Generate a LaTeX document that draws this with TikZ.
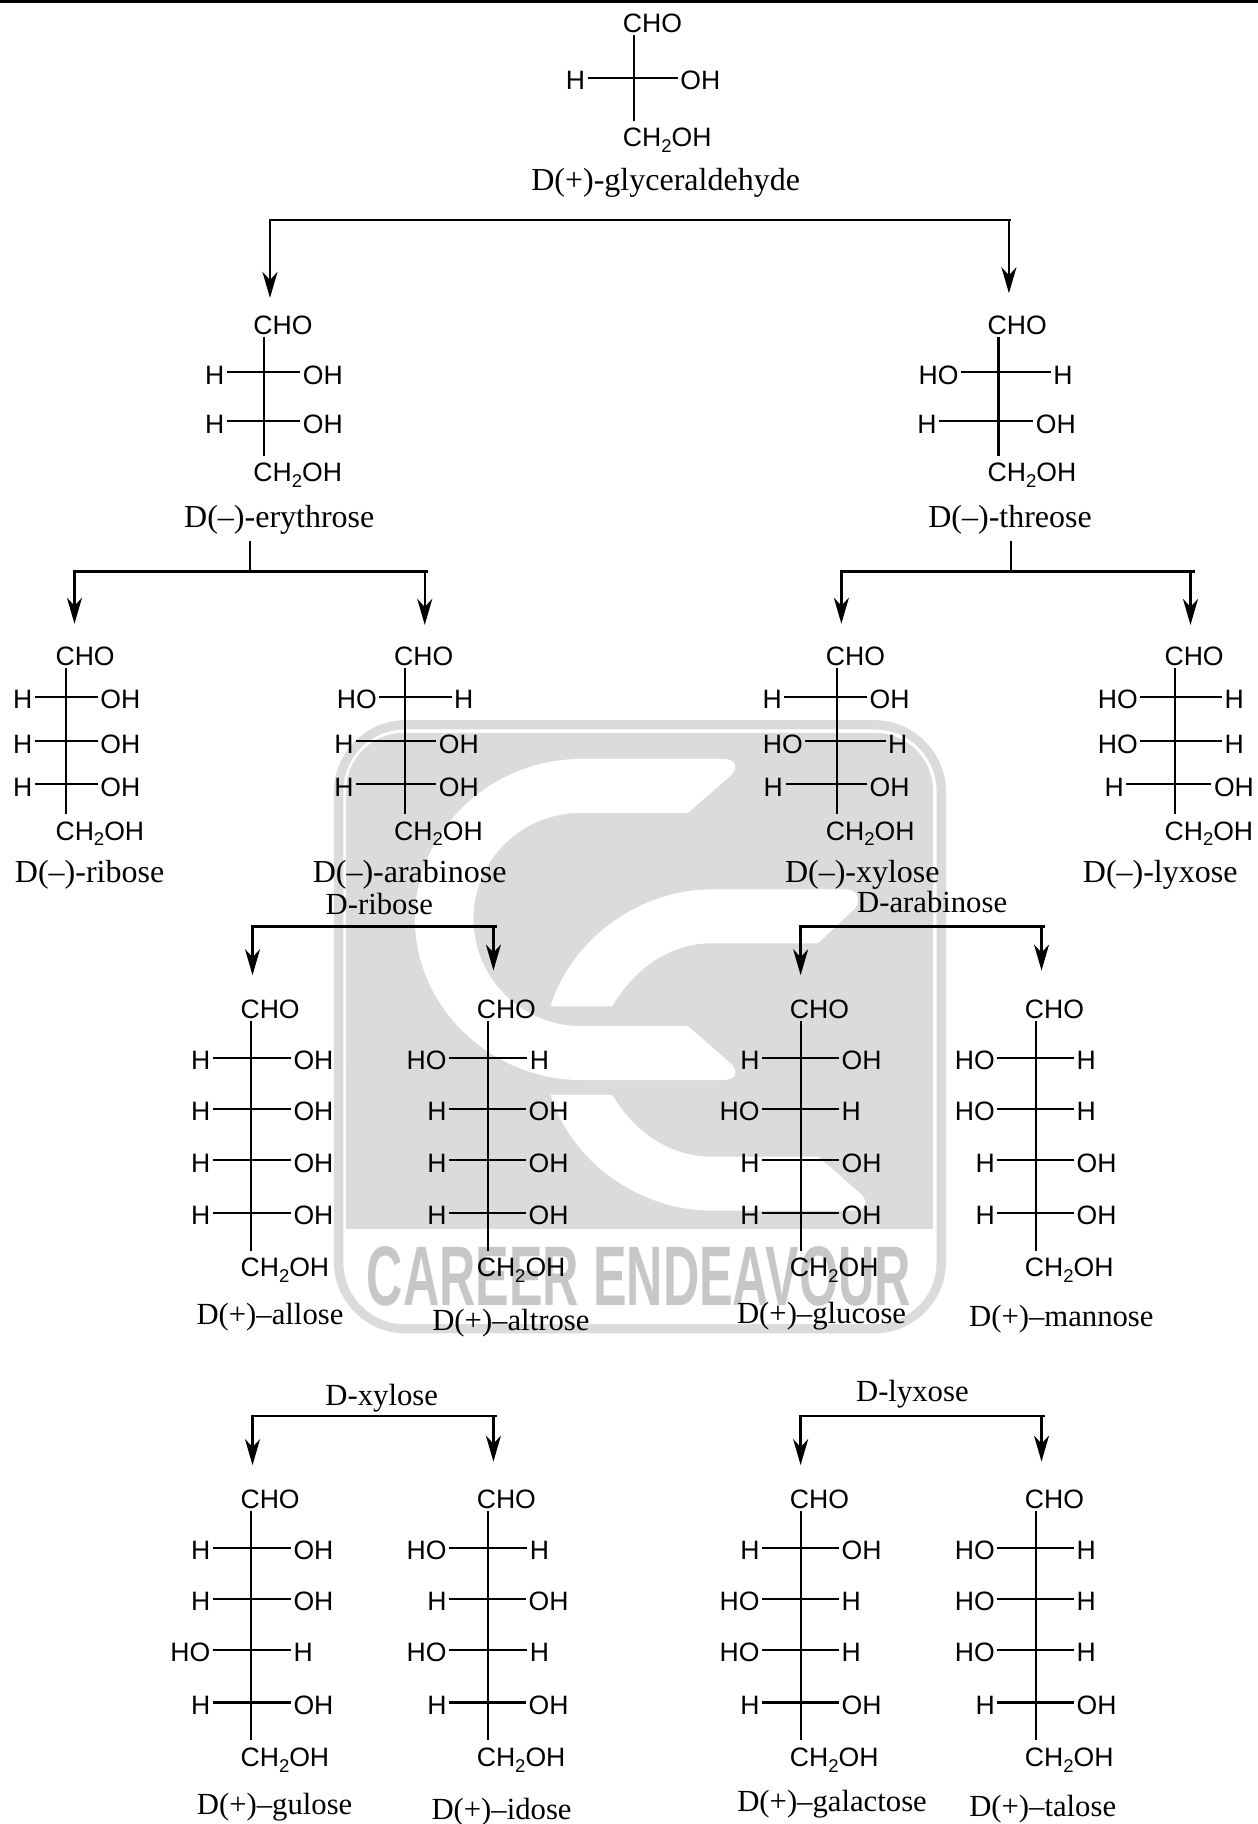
\documentclass[tikz,border=0pt]{standalone}
\usepackage{fontspec}
\usepackage{graphicx}
\setmainfont{Liberation Serif}
\newfontfamily\arialf{Liberation Sans}
\usetikzlibrary{arrows.meta,calc}
\definecolor{wmgray}{HTML}{DADBDB}
\definecolor{wmtext}{HTML}{C6C7C7}
\newcommand\chtwo{CH\raisebox{-.2em}{\fontsize{18.5}{20}\selectfont 2}OH}
\tikzset{
  chem/.style={font=\arialf\fontsize{26.6}{30}\selectfont,inner sep=0pt,outer sep=2.6pt,text height=23.6pt,text depth=0pt},
  sugarname/.style={font=\fontsize{32}{36}\selectfont,inner sep=0pt,text height=22pt,text depth=7pt,anchor=center,yshift=-2.9pt},
  sugarsmall/.style={sugarname,font=\fontsize{30.7}{36}\selectfont},
  bondline/.style={line width=2.1pt,black},
  bracketline/.style={line width=2.4pt,black,line cap=rect},
  arrowline/.style={line width=2.4pt,black,-{Stealth[length=26pt,width=15pt,inset=8pt]}},
}
% name, vertical x, CHO y, CH2OH y, rows y/left/dl/dr/right
\newcommand\fischer[5]{%
  \coordinate (#1-v) at (#2,0);
  \node[chem,anchor=west] (#1-c) at ({#2-11.5},{#3-2}) {CHO};
  \node[chem,anchor=west] (#1-b) at ({#2-11.5},{#4-2}) {\chtwo};
  \draw[bondline] (#1-c.south -| #1-v) -- (#1-b.north -| #1-v);
  \foreach \ry/\labL/\da/\db/\labR [count=\i] in {#5}{
    \node[chem,anchor=east] (#1-\i-l) at ({#2+\da},{\ry-2}) {\labL};
    \node[chem,anchor=west] (#1-\i-r) at ({#2+\db},{\ry-2}) {\labR};
    \draw[bondline] (#1-\i-l.east) -- (#1-\i-r.west);
  }
}
% name, xl, xr, y, left arrow x, left tip y, right arrow x, right tip y
\newcommand\forkline[8]{%
  \coordinate (#1-l) at (#2,#4);
  \coordinate (#1-r) at (#3,#4);
  \coordinate (#1-la) at (#5,#4);
  \coordinate (#1-lt) at (#5,#6);
  \coordinate (#1-ra) at (#7,#4);
  \coordinate (#1-rt) at (#7,#8);
  \draw[bracketline] (#1-l) -- (#1-r);
  \draw[arrowline] (#1-la) -- (#1-lt);
  \draw[arrowline] (#1-ra) -- (#1-rt);
}
\begin{document}
\begin{tikzpicture}[x=1.16374pt,y=-1.16374pt]
\useasboundingbox (0,0) rectangle (1081,1567.4);
\fill[white] (0,0) rectangle (1081,1567.4);
% watermark
\begin{scope}[shift={(257.8,601.5)},xscale=0.3726,yscale=0.3617]
  \fill[wmgray,rounded corners=72pt] (78,48) rectangle (1490,1505);
  \fill[white,rounded corners=62pt] (100,70) rectangle (1468,1483);
  \fill[wmgray,rounded corners=58pt] (106,78) -- (1460,78) -- (1460,1000) -- (106,1000) -- cycle;
  \fill[wmgray] (106,600) rectangle (1460,1257);
  \fill[white] (650,140) -- (975,140) .. controls (1005,140) and (1012,160) .. (995,178) -- (895,268) -- (650,268)
    .. controls (510,268) and (400,380) .. (400,520) .. controls (400,660) and (510,775) .. (650,775)
    -- (895,775) -- (995,865) .. controls (1012,885) and (1005,903) .. (975,903) -- (650,903)
    .. controls (440,903) and (265,730) .. (265,520) .. controls (265,310) and (440,140) .. (650,140) -- cycle;
  \fill[white] (950,450) -- (1260,450) .. controls (1285,450) and (1295,475) .. (1280,495) -- (1195,578) -- (950,578)
    .. controls (850,578) and (770,640) .. (720,728) -- (578,728) .. controls (625,570) and (780,450) .. (950,450) -- cycle;
  \fill[white] (578,938) -- (720,938) .. controls (770,1025) and (850,1085) .. (950,1085) -- (1195,1085)
    -- (1295,1175) .. controls (1312,1195) and (1305,1213) .. (1275,1213) -- (950,1213)
    .. controls (780,1213) and (625,1095) .. (578,938) -- cycle;
\end{scope}
\node[inner sep=0pt,text=wmtext] (wm) at (549,1096.6) {\resizebox{544pt}{59pt}{\arialf\bfseries CAREER ENDEAVOUR}};
% top rule
\coordinate (ruleL) at (0,1.3);
\coordinate (ruleR) at (1081,1.3);
\draw[line width=2.8pt,black] (ruleL) -- (ruleR);

% trioses / tetroses
\fischer{gly}{544.5}{20}{118}{69/H/-39.5/38/OH}
\node[sugarname] (glyn) at (572,155) {D(+)-glyceraldehyde};
\fischer{ery}{227}{279}{406}{322/H/-32/31/OH,364/H/-32/31/OH}
\node[sugarname] (eryn) at (240,444) {D(–)-erythrose};
\fischer{thr}{858}{279}{406}{322/HO/-32/45/H,364/H/-51/30/OH}
\node[sugarname] (thrn) at (868,444) {D(–)-threose};

% pentoses
\fischer{rib}{57}{564}{714}{601/H/-27/27/OH,639/H/-27/27/OH,676/H/-27/27/OH}
\node[sugarname] (ribn) at (77,749) {D(–)-ribose};
\fischer{ara}{348}{564}{714}{601/HO/-22/40/H,639/H/-42/27/OH,676/H/-42/27/OH}
\node[sugarname] (aran) at (352,749) {D(–)-arabinose};
\fischer{xyl}{719}{564}{714}{601/H/-45/26/OH,639/HO/-27/42/H,676/H/-44/26/OH}
\node[sugarname] (xyln) at (741,749) {D(–)-xylose};
\fischer{lyx}{1010}{564}{714}{601/HO/-30/40/H,639/HO/-30/40/H,676/H/-42/31/OH}
\node[sugarname] (lyxn) at (997,749) {D(–)-lyxose};
\node[sugarsmall] (ribh) at (326,777) {D-ribose};
\node[sugarsmall] (arah) at (801,775) {D-arabinose};
\node[sugarsmall] (xylh) at (328,1199) {D-xylose};
\node[sugarsmall] (lyxh) at (784,1195) {D-lyxose};

% hexoses, upper
\fischer{all}{216}{867}{1089}{911/H/-33/34/OH,955/H/-33/34/OH,999/H/-33/34/OH,1044/H/-33/34/OH}
\node[sugarsmall] (alln) at (232,1129) {D(+)–allose};
\fischer{alt}{419}{867}{1089}{911/HO/-33/34/H,955/H/-33/33/OH,999/H/-33/33/OH,1044/H/-33/33/OH}
\node[sugarsmall] (altn) at (439,1134) {D(+)–altrose};
\fischer{glu}{688}{867}{1089}{911/H/-33/33/OH,955/HO/-33/33/H,999/H/-33/33/OH,1044/H/-33/33/OH}
\node[sugarsmall] (glun) at (706,1128) {D(+)–glucose};
\fischer{man}{890}{867}{1089}{911/HO/-33/33/H,955/HO/-33/33/H,999/H/-33/33/OH,1044/H/-33/33/OH}
\node[sugarsmall] (mann) at (912,1131) {D(+)–mannose};

% hexoses, lower
\fischer{gul}{216}{1288}{1510}{1332/H/-33/34/OH,1376/H/-33/34/OH,1420/HO/-33/34/H,1465/H/-33/34/OH}
\node[sugarsmall] (guln) at (236,1550) {D(+)–gulose};
\fischer{ido}{419}{1288}{1510}{1332/HO/-33/34/H,1376/H/-33/33/OH,1420/HO/-33/34/H,1465/H/-33/33/OH}
\node[sugarsmall] (idon) at (431,1555) {D(+)–idose};
\fischer{gal}{688}{1288}{1510}{1332/H/-33/33/OH,1376/HO/-33/33/H,1420/HO/-33/33/H,1465/H/-33/33/OH}
\node[sugarsmall] (galn) at (715,1548) {D(+)–galactose};
\fischer{tal}{890}{1288}{1510}{1332/HO/-33/33/H,1376/HO/-33/33/H,1420/HO/-33/33/H,1465/H/-33/33/OH}
\node[sugarsmall] (taln) at (896,1552) {D(+)–talose};

% connectors
\forkline{f1}{232}{868}{189}{232}{256}{867}{252}
\forkline{f2}{64}{367}{491}{64}{536}{365}{537}
\forkline{f3}{723}{1026}{491}{723}{536}{1023}{537}
\forkline{f4}{217}{426}{796}{217}{838}{424}{834}
\forkline{f5}{688}{897}{796}{688}{838}{895}{834}
\forkline{f6}{217}{426}{1217}{217}{1259}{424}{1256}
\forkline{f7}{688}{897}{1217}{688}{1259}{895}{1256}
\draw[bracketline,line cap=butt] ($(eryn.south)+(-25,6)$) coordinate (s2t) -- (s2t |- f2-l);
\draw[bracketline,line cap=butt] ($(thrn.south)+(1,6)$) coordinate (s3t) -- (s3t |- f3-l);
\end{tikzpicture}
\end{document}
